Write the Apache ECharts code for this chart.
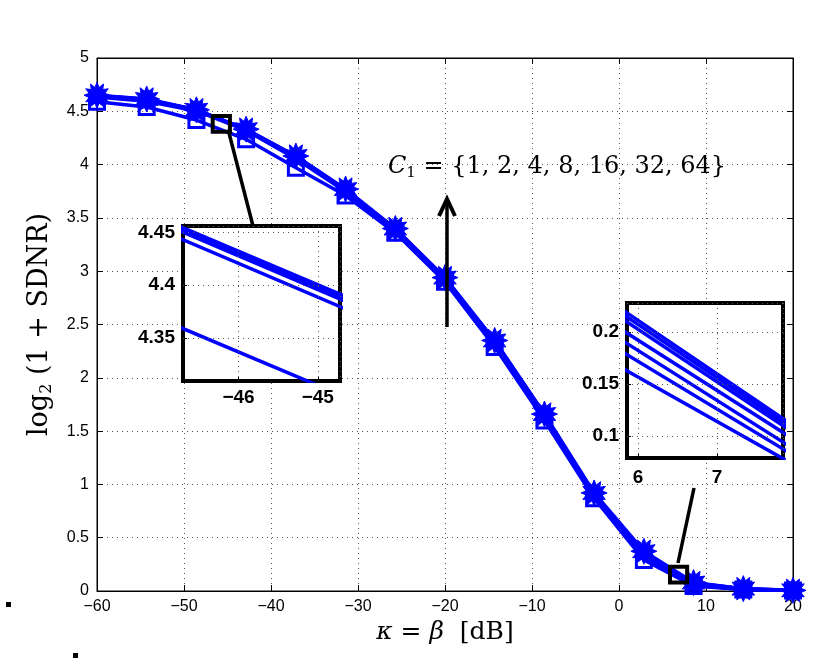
<!DOCTYPE html>
<html>
<head>
<meta charset="utf-8">
<title>SDNR vs kappa</title>
<script src="https://cdn.jsdelivr.net/npm/echarts@6/dist/echarts.min.js"></script>
<style>
  html, body { margin: 0; background: #fff; }
  #main { width: 821px; height: 663px; }
</style>
</head>
<body>
<div id="main"></div>
<script>
// kappa = beta [dB], 15 sample points
var kappa = [-60, -54.29, -48.57, -42.86, -37.14, -31.43, -25.71, -20, -14.29, -8.57, -2.86, 2.86, 8.57, 14.29, 20];
var c1Set = [1, 2, 4, 8, 16, 32, 64];

// log2(1 + SDNR) for each C1
var sdnrC1  = [4.59, 4.54, 4.418, 4.237, 3.97, 3.71, 3.36, 2.90, 2.29, 1.60, 0.87, 0.291, 0.047, 0.013, 0.004];
var sdnrC2  = [4.634, 4.595, 4.503, 4.320, 4.055, 3.748, 3.38, 2.918, 2.32, 1.63, 0.89, 0.316, 0.054, 0.015, 0.004];
var sdnrC4  = [4.64, 4.603, 4.510, 4.327, 4.065, 3.755, 3.386, 2.924, 2.33, 1.64, 0.90, 0.333, 0.059, 0.017, 0.005];
var sdnrC8  = [4.644, 4.607, 4.511, 4.329, 4.07, 3.76, 3.39, 2.928, 2.335, 1.645, 0.905, 0.344, 0.068, 0.019, 0.005];
var sdnrC16 = [4.646, 4.61, 4.512, 4.330, 4.074, 3.764, 3.394, 2.932, 2.34, 1.65, 0.91, 0.361, 0.073, 0.020, 0.005];
var sdnrC32 = [4.648, 4.612, 4.513, 4.331, 4.077, 3.767, 3.397, 2.936, 2.345, 1.655, 0.915, 0.368, 0.076, 0.021, 0.006];
var sdnrC64 = [4.65, 4.615, 4.514, 4.332, 4.08, 3.77, 3.40, 2.94, 2.35, 1.66, 0.92, 0.373, 0.079, 0.022, 0.006];
var allSdnr = [sdnrC1, sdnrC2, sdnrC4, sdnrC8, sdnrC16, sdnrC32, sdnrC64];

// zoom windows
var zoomAX = [-46.7, -44.72];
var zoomAY = [4.309, 4.456];
var zoomATicksX = [-46, -45];
var zoomATicksY = [4.35, 4.4, 4.45];
var zoomBX = [5.86, 7.835];
var zoomBY = [0.079, 0.228];
var zoomBTicksX = [6, 7];
var zoomBTicksY = [0.1, 0.15, 0.2];

var blue = '#0000ff';

function starPath(n, r1, r2) {
    var d = '';
    for (var i = 0; i < 2 * n; i++) {
        var r = i % 2 ? r2 : r1;
        var a = Math.PI * i / n - Math.PI / 2;
        d += (i ? 'L' : 'M') + (r * Math.cos(a)).toFixed(2) + ' ' + (r * Math.sin(a)).toFixed(2);
    }
    return 'path://' + d + 'Z';
}

function minus(v) { return String(v).replace('-', '\u2212'); }

function pairs(ys) {
    return kappa.map(function (x, i) { return [x, ys[i]]; });
}

var dottedLine = { color: '#555', width: 1, type: [1, 4] };

var series = [];

allSdnr.forEach(function (ys, k) {
    var s = {
        type: 'line',
        name: 'C1=' + c1Set[k],
        data: pairs(ys),
        xAxisIndex: 0, yAxisIndex: 0,
        lineStyle: { color: blue, width: 3.5 },
        showSymbol: false,
        symbol: 'none',
        z: 2 + k * 0.1
    };
    if (k === 0) {
        s.showSymbol = true;
        s.symbol = 'rect';
        s.symbolSize = 15;
        s.itemStyle = { color: 'rgba(255,255,255,0)', borderColor: blue, borderWidth: 3 };
    }
    if (k === allSdnr.length - 1) {
        s.showSymbol = true;
        s.symbol = starPath(12, 12, 7.5);
        s.symbolSize = 26;
        s.itemStyle = { color: blue, borderColor: blue, borderWidth: 1 };
    }
    series.push(s);
    // inset copies
    [2, 3].forEach(function (ax) {
        series.push({
            type: 'line', data: pairs(ys),
            xAxisIndex: ax, yAxisIndex: ax,
            lineStyle: { color: blue, width: 3.5 },
            showSymbol: false, symbol: 'none', clip: true,
            silent: true, z: 12
        });
    });
});

// zoom boxes drawn on the main axes
series.push({
    type: 'line', data: [], xAxisIndex: 0, yAxisIndex: 0, z: 8,
    markArea: {
        silent: true, z: 8,
        itemStyle: { color: 'rgba(0,0,0,0)', borderColor: '#000', borderWidth: 4 },
        data: [
            [{ coord: [zoomAX[0], zoomAY[1]] }, { coord: [zoomAX[1], zoomAY[0]] }],
            [{ coord: [zoomBX[0], zoomBY[1]] }, { coord: [zoomBX[1], zoomBY[0]] }]
        ]
    }
});

var tickFont = { fontFamily: 'Liberation Sans', fontSize: 16, color: '#000' };
var insetFont = { fontFamily: 'Liberation Sans', fontSize: 19, fontWeight: 'bold', color: '#000' };

var insetBoxA = { left: 183, top: 226, width: 157, height: 155 };
var insetBoxB = { left: 627, top: 303, width: 156, height: 155 };

function insetAxes(grid, xr, yr, xt, yt, xMargin) {
    return {
        x: {
            type: 'value', gridIndex: grid, min: xr[0], max: xr[1], z: 11,
            axisLine: { show: false, onZero: false },
            axisTick: { show: true, inside: true, length: 4, customValues: xt, lineStyle: { color: '#000' } },
            axisLabel: Object.assign({ customValues: xt, margin: xMargin, formatter: minus }, insetFont),
            splitLine: { show: false }
        },
        y: {
            type: 'value', gridIndex: grid, min: yr[0], max: yr[1], z: 11,
            axisLine: { show: false, onZero: false },
            axisTick: { show: true, inside: true, length: 4, customValues: yt, lineStyle: { color: '#000' } },
            axisLabel: Object.assign({ customValues: yt, margin: 8 }, insetFont),
            splitLine: { show: false }
        }
    };
}
var insA = insetAxes(1, zoomAX, zoomAY, zoomATicksX, zoomATicksY, 7);
var insB = insetAxes(2, zoomBX, zoomBY, zoomBTicksX, zoomBTicksY, 10);

// overlay grids that carry the inset's dotted grid lines: each starts at the first tick
// so that an interval axis lands exactly on the tick values
var extraGrids = [], extraX = [], extraY = [];
function hiddenAxis(grid, r, withSplit, interval) {
    var a = {
        type: 'value', gridIndex: grid, min: r[0], max: r[1], z: 13,
        axisLine: { show: false, onZero: false }, axisTick: { show: false }, axisLabel: { show: false },
        splitLine: { show: withSplit, lineStyle: dottedLine }
    };
    if (interval) a.interval = interval;
    return a;
}
function overlayGrid(box, xr, yr, xt, yt) {
    var xFrac = (xt[0] - xr[0]) / (xr[1] - xr[0]);
    var yFrac = (yr[1] - yt[0]) / (yr[1] - yr[0]);
    // vertical lines
    var gi = 3 + extraGrids.length;
    extraGrids.push({ left: box.left + box.width * xFrac, top: box.top,
        width: box.width * (1 - xFrac), height: box.height, show: false });
    extraX.push(hiddenAxis(gi, [xt[0], xr[1]], true, xt[1] - xt[0]));
    extraY.push(hiddenAxis(gi, yr, false));
    // horizontal lines
    gi = 3 + extraGrids.length;
    extraGrids.push({ left: box.left, top: box.top,
        width: box.width, height: box.height * yFrac, show: false });
    extraX.push(hiddenAxis(gi, xr, false));
    extraY.push(hiddenAxis(gi, [yt[0], yr[1]], true, +(yt[1] - yt[0]).toFixed(6)));
}
overlayGrid(insetBoxA, zoomAX, zoomAY, zoomATicksX, zoomATicksY);
overlayGrid(insetBoxB, zoomBX, zoomBY, zoomBTicksX, zoomBTicksY);

var chart = echarts.init(document.getElementById('main'));
var option = {
    backgroundColor: '#fff',
    animation: false,
    grid: [
        { left: 97, right: 28, top: 58, bottom: 72, show: true, borderColor: '#000', borderWidth: 1 },
        Object.assign({ show: true, backgroundColor: '#fff', borderColor: '#000', borderWidth: 4, z: 10 }, insetBoxA),
        Object.assign({ show: true, backgroundColor: '#fff', borderColor: '#000', borderWidth: 4, z: 10 }, insetBoxB)
    ].concat(extraGrids),
    xAxis: [
        {
            type: 'value', gridIndex: 0, min: -60, max: 20, interval: 10,
            name: '{i|κ} = {i|β}  [dB]', nameLocation: 'middle', nameGap: 26,
            nameTextStyle: {
                fontFamily: 'DejaVu Serif', fontSize: 25, color: '#000',
                rich: { i: { fontFamily: 'DejaVu Serif', fontStyle: 'italic', fontSize: 25 } }
            },
            axisLine: { onZero: false, lineStyle: { color: '#000' } },
            axisTick: { inside: true, length: 6, lineStyle: { color: '#000' } },
            axisLabel: Object.assign({ margin: 8, formatter: minus }, tickFont),
            splitLine: { show: true, lineStyle: dottedLine }
        },
        {
            type: 'value', gridIndex: 0, position: 'top', min: -60, max: 20, interval: 10,
            axisLine: { onZero: false, lineStyle: { color: '#000' } },
            axisTick: { inside: true, length: 6, lineStyle: { color: '#000' } },
            axisLabel: { show: false }, splitLine: { show: false }
        },
        insA.x, insB.x
    ].concat(extraX),
    yAxis: [
        {
            type: 'value', gridIndex: 0, min: 0, max: 5, interval: 0.5,
            name: 'log{s|2} (1 + SDNR)', nameLocation: 'middle', nameGap: 42, nameRotate: 90,
            nameTextStyle: {
                fontFamily: 'DejaVu Serif', fontSize: 27, color: '#000',
                rich: { s: { fontFamily: 'DejaVu Serif', fontSize: 16, padding: [14, 0, 0, 0] } }
            },
            axisLine: { onZero: false, lineStyle: { color: '#000' } },
            axisTick: { inside: true, length: 6, lineStyle: { color: '#000' } },
            axisLabel: Object.assign({ margin: 8 }, tickFont),
            splitLine: { show: true, lineStyle: dottedLine }
        },
        {
            type: 'value', gridIndex: 0, position: 'right', min: 0, max: 5, interval: 0.5,
            axisLine: { onZero: false, lineStyle: { color: '#000' } },
            axisTick: { inside: true, length: 6, lineStyle: { color: '#000' } },
            axisLabel: { show: false }, splitLine: { show: false }
        },
        insA.y, insB.y
    ].concat(extraY),
    series: series,
    graphic: [
        // connectors from zoom boxes to insets
        { type: 'line', z: 20, shape: { x1: 229, y1: 133, x2: 253, y2: 226 }, style: { stroke: '#000', lineWidth: 3.5 } },
        { type: 'line', z: 20, shape: { x1: 678, y1: 563, x2: 694, y2: 488 }, style: { stroke: '#000', lineWidth: 3.5 } },
        // arrow
        { type: 'line', z: 20, shape: { x1: 447, y1: 327, x2: 447, y2: 200 }, style: { stroke: '#000', lineWidth: 3.5 } },
        { type: 'polyline', z: 20, shape: { points: [[439, 216], [447, 199], [455, 216]] }, style: { stroke: '#000', lineWidth: 4, fill: null } },
        {
            type: 'text', z: 20, left: 388, top: 155,
            style: {
                text: '{i|C}{s|1} = {1, 2, 4, 8, 16, 32, 64}',
                fontFamily: 'DejaVu Serif', fontSize: 24, fill: '#000',
                rich: {
                    i: { fontFamily: 'DejaVu Serif', fontStyle: 'italic', fontSize: 24 },
                    s: { fontFamily: 'DejaVu Serif', fontSize: 15, padding: [13, 0, 0, 0] }
                }
            }
        },
        // stray marks
        { type: 'rect', shape: { x: 6, y: 602, width: 5, height: 5 }, style: { fill: '#000' } },
        { type: 'rect', shape: { x: 73, y: 653, width: 5, height: 5 }, style: { fill: '#000' } }
    ]
};
chart.setOption(option);
</script>
</body>
</html>
